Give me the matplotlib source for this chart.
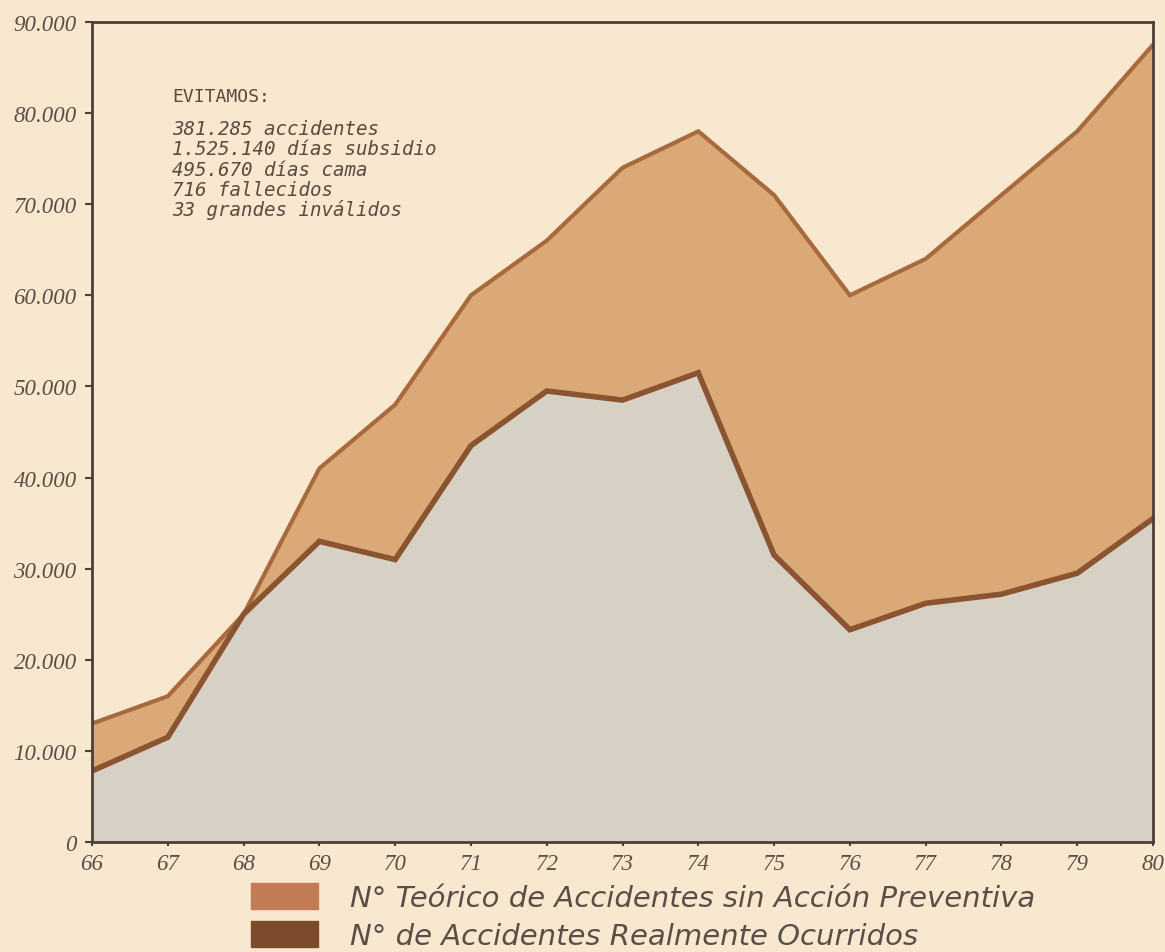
import matplotlib.pyplot as plt
from matplotlib.patches import Patch
from matplotlib.ticker import FuncFormatter

years = [66, 67, 68, 69, 70, 71, 72, 73, 74, 75, 76, 77, 78, 79, 80]
teorico = [13000, 16000, 25000, 41000, 48000, 60000, 66000, 74000, 78000,
           71000, 60000, 64000, 71000, 78000, 87500]
ocurridos = [7800, 11500, 25000, 33000, 31000, 43500, 49500, 48500, 51500,
             31500, 23300, 26200, 27200, 29500, 35500]
y_ticks = [0, 10000, 20000, 30000, 40000, 50000, 60000, 70000, 80000, 90000]
nota = ["381.285 accidentes", "1.525.140 días subsidio", "495.670 días cama",
        "716 fallecidos", "33 grandes inválidos"]
leyenda = ["N° Teórico de Accidentes sin Acción Preventiva",
           "N° de Accidentes Realmente Ocurridos"]

bg = "#f8e8cf"
tan = "#dba978"
gris = "#d7d0c5"
linea_top = "#a86a3c"
linea_low = "#8a5431"
frame = "#4a4039"

fig = plt.figure(figsize=(11.65, 9.53), dpi=100, facecolor=bg)
ax = fig.add_axes([0.079, 0.1154, 0.9107, 0.8605])
ax.set_facecolor(bg)

ax.fill_between(years, 0, teorico, color=tan, lw=0)
ax.fill_between(years, 0, ocurridos, color=gris, lw=0)
ax.plot(years, teorico, color=linea_top, lw=3, solid_joinstyle="miter")
ax.plot(years, ocurridos, color=linea_low, lw=4, solid_joinstyle="miter")

ax.set_xlim(66, 80)
ax.set_ylim(0, 90000)
ax.set_xticks(years)
ax.set_yticks(y_ticks)
ax.yaxis.set_major_formatter(FuncFormatter(
    lambda v, p: "0" if v == 0 else f"{int(v):,}".replace(",", ".")))

for s in ax.spines.values():
    s.set_color(frame)
    s.set_linewidth(2)
ax.tick_params(axis="both", colors=frame, length=5, width=1.5,
               labelcolor="#5a4f48")
ax.tick_params(axis="y", pad=6)
ax.tick_params(axis="x", length=3, pad=5)
for lab in ax.get_xticklabels() + ax.get_yticklabels():
    lab.set_fontfamily("Liberation Serif")
    lab.set_fontstyle("italic")
    lab.set_fontsize(16.5)

ax.text(0.0754, 0.910, "EVITAMOS:", transform=ax.transAxes, va="center",
        fontsize=13, family="DejaVu Sans Mono", color="#5a4a40")
for i, t in enumerate(nota):
    ax.text(0.0754, 0.8695 - i * 0.0244, t, transform=ax.transAxes,
            va="center", fontsize=13.8, family="DejaVu Sans Mono",
            style="italic", color="#5a4a40")

handles = [Patch(color="#c27b55"), Patch(color="#7c4b2c")]
fig.legend(handles, leyenda, loc="upper left", bbox_to_anchor=(0.203, 0.088),
           frameon=False, handlelength=2.3, handleheight=1.0,
           handletextpad=1.1, labelspacing=0.3, borderpad=0,
           prop={"family": "DejaVu Sans", "style": "oblique", "size": 21},
           labelcolor="#5a4f48")

fig.savefig("out.png", dpi=100, facecolor=bg)
